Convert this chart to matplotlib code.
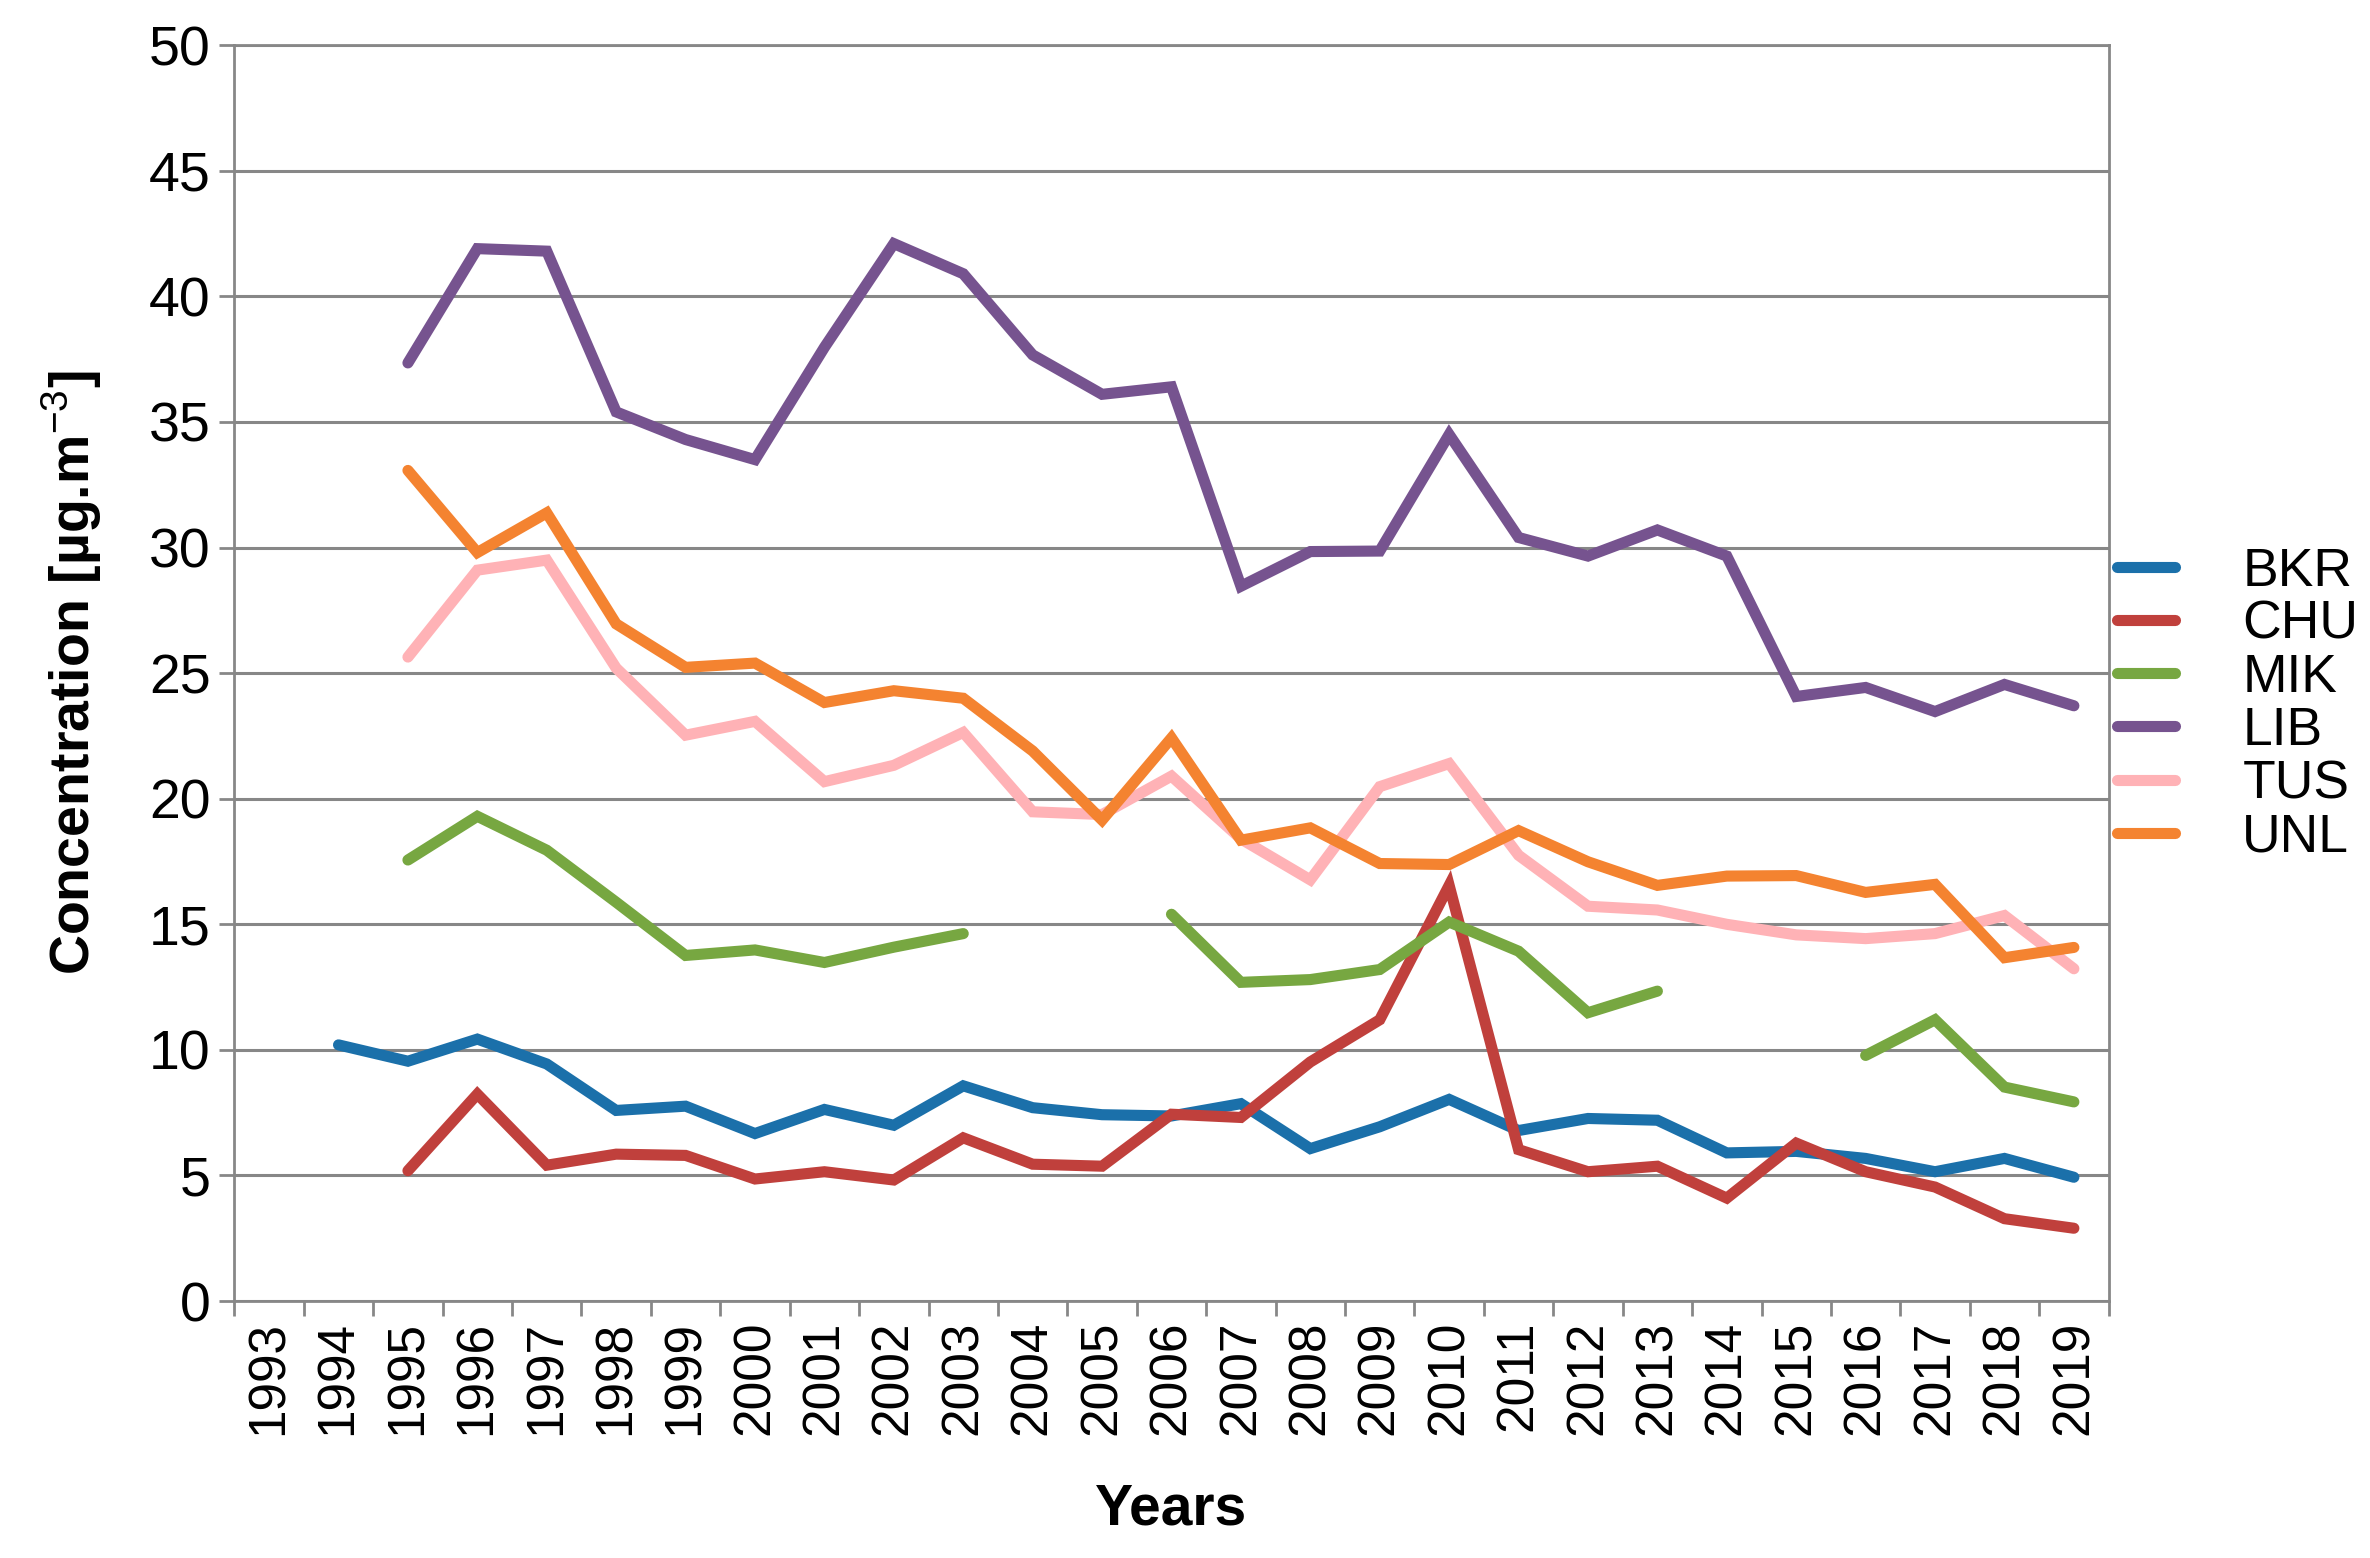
import numpy as np
import matplotlib
matplotlib.use("Agg")
import matplotlib.pyplot as plt

nan = np.nan

years = [str(y) for y in range(1993, 2020)]

bkr = [nan, 10.2, 9.55, 10.43, 9.44, 7.59, 7.76, 6.67, 7.63, 7.0, 8.57, 7.7, 7.42, 7.37,
       7.86, 6.07, 6.94, 8.03, 6.79, 7.27, 7.2, 5.9, 5.96, 5.68, 5.15, 5.68, 4.93]
chu = [nan, nan, 5.19, 8.24, 5.41, 5.85, 5.8, 4.86, 5.15, 4.82, 6.5, 5.45, 5.37, 7.44,
       7.31, 9.52, 11.2, 16.55, 6.03, 5.15, 5.37, 4.1, 6.29, 5.15, 4.54, 3.28, 2.9]
mik = [nan, nan, 17.56, 19.3, 17.95, 15.88, 13.76, 13.98, 13.48, 14.09, 14.63, nan, nan, 15.4,
       12.69, 12.8, 13.2, 15.09, 13.93, 11.48, 12.34, nan, nan, 9.78, 11.2, 8.52, 7.93]
lib = [nan, nan, 37.35, 41.9, 41.8, 35.4, 34.3, 33.5, 37.97, 42.1, 40.9, 37.67, 36.1, 36.4,
       28.46, 29.84, 29.86, 34.5, 30.4, 29.66, 30.7, 29.66, 24.07, 24.43, 23.47, 24.55, 23.7]
tus = [nan, nan, 25.64, 29.1, 29.5, 25.2, 22.53, 23.08, 20.68, 21.33, 22.64, 19.48, 19.37, 20.9,
       18.4, 16.77, 20.48, 21.4, 17.75, 15.72, 15.57, 15.0, 14.58, 14.43, 14.63, 15.35, 13.23]
unl = [nan, nan, 33.07, 29.8, 31.38, 26.96, 25.23, 25.4, 23.83, 24.3, 24.0, 21.9, 19.15, 22.42,
       18.35, 18.84, 17.42, 17.38, 18.73, 17.49, 16.55, 16.92, 16.94, 16.27, 16.59, 13.67, 14.08]

series = ["BKR", "CHU", "MIK", "LIB", "TUS", "UNL"]
colors = ["#1B70AA", "#C0403C", "#77A741", "#76538F", "#FFB2B6", "#F48330"]

plt.rcParams["font.family"] = ["Liberation Sans", "DejaVu Sans"]
plt.rcParams["mathtext.fontset"] = "custom"
plt.rcParams["mathtext.rm"] = "Liberation Sans"
plt.rcParams["mathtext.bf"] = "Liberation Sans:bold"

grid_col = "#878787"

fig = plt.figure(figsize=(23.7, 15.58), dpi=100)
ax = fig.add_axes([0.0989, 0.1649, 0.7908, 0.8061])

x = np.arange(len(years))
for name, vals, c in zip(series, [bkr, chu, mik, lib, tus, unl], colors):
    ax.plot(x, vals, color=c, lw=8, label=name, solid_capstyle="round",
            solid_joinstyle="miter")

ax.set_xlim(-0.5, len(years) - 0.5)
ax.set_ylim(0, 50)
ax.set_yticks(range(0, 51, 5))
ax.yaxis.grid(True, color=grid_col, lw=2.2)
ax.set_axisbelow(True)

ax.set_xticks(np.arange(-0.5, len(years), 1.0))
ax.set_xticklabels([])
ax.set_xticks(x, minor=True)
ax.set_xticklabels(years, minor=True, rotation=90, fontsize=37)
ax.tick_params(axis="x", which="major", length=11, width=2, color=grid_col, direction="out")
ax.tick_params(axis="x", which="minor", length=0, pad=14)
ax.tick_params(axis="y", length=11, width=2, color=grid_col, labelsize=40, pad=6)

for s in ax.spines.values():
    s.set_color(grid_col)
    s.set_linewidth(2)

ax.set_xlabel("Years", fontsize=41, fontweight="bold", labelpad=34)
ax.set_ylabel(r"Concentration [µg.m$^{-3}$]", fontsize=40, fontweight="bold", labelpad=32)

ax.legend(loc="center left", bbox_to_anchor=(1.0, 0.475), frameon=False, fontsize=38.5,
          handlelength=1.1, handletextpad=1.25, labelspacing=0.06, borderaxespad=0.0,
          borderpad=0.15)

fig.savefig("out.png", dpi=100)
